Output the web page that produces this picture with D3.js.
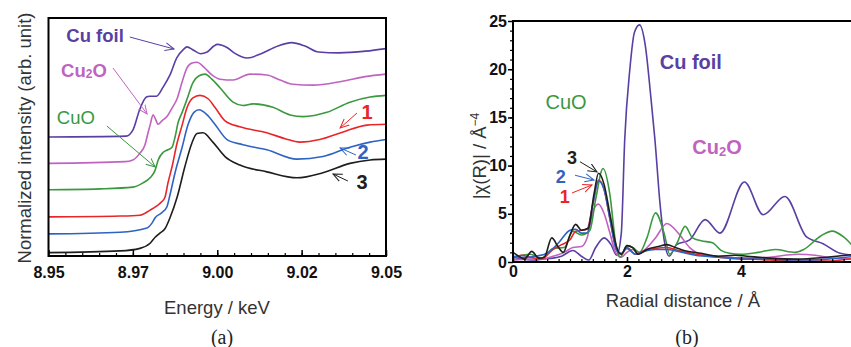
<!DOCTYPE html>
<html>
<head>
<meta charset="utf-8">
<script src="https://cdn.jsdelivr.net/npm/d3@7"></script>
<style>
  body { margin: 0; background: #fff; }
  svg { display: block; font-family: "Liberation Sans", Arial, sans-serif; }
</style>
</head>
<body>
<div id="chart"></div>
<script>
// ---------- (a) XANES, stacked normalized intensity ----------
const xanesTicks = [8.95, 8.975, 9.0, 9.025, 9.05];
const xanesTickLabels = ['8.95', '8.97', '9.00', '9.02', '9.05'];

const xanesCuFoil = [
  [8.950, 1.40], [8.973, 1.41], [8.975, 1.48], [8.977, 1.72], [8.979, 1.87], [8.980, 1.88],
  [8.982, 1.88], [8.984, 1.99], [8.986, 2.13], [8.988, 2.33], [8.990, 2.43], [8.991, 2.46],
  [8.993, 2.42], [8.995, 2.38], [8.997, 2.40], [8.999, 2.47], [9.000, 2.49], [9.003, 2.45],
  [9.005, 2.39], [9.009, 2.33], [9.013, 2.38], [9.018, 2.47], [9.022, 2.51], [9.026, 2.47],
  [9.030, 2.40], [9.036, 2.39], [9.044, 2.41], [9.050, 2.44]
];
const xanesCu2O = [
  [8.950, 1.09], [8.9727, 1.11], [8.975, 1.13], [8.9771, 1.21], [8.9786, 1.31], [8.9795, 1.45],
  [8.9801, 1.54], [8.981, 1.66], [8.9816, 1.62], [8.9825, 1.55], [8.9836, 1.59], [8.9851, 1.64],
  [8.9866, 1.74], [8.9881, 1.85], [8.9896, 2.05], [8.991, 2.21], [8.9925, 2.27], [8.994, 2.28],
  [8.9961, 2.22], [8.9984, 2.13], [9.0008, 2.08], [9.0047, 2.07], [9.0097, 2.14], [9.0147, 2.13],
  [9.0186, 2.07], [9.0224, 2.02], [9.0284, 2.01], [9.0364, 2.05], [9.0438, 2.11], [9.050, 2.14]
];
const xanesCuO = [
  [8.950, 0.78], [8.9653, 0.79], [8.975, 0.81], [8.978, 0.86], [8.9801, 0.92], [8.9816, 1.01],
  [8.9825, 1.13], [8.984, 1.22], [8.9854, 1.25], [8.9866, 1.28], [8.9875, 1.40], [8.9884, 1.57],
  [8.9896, 1.69], [8.991, 1.84], [8.9928, 2.04], [8.9946, 2.12], [8.9964, 2.14], [8.9984, 2.08],
  [9.0008, 1.98], [9.0047, 1.81], [9.0076, 1.77], [9.0106, 1.79], [9.0165, 1.75], [9.0216, 1.66],
  [9.0254, 1.64], [9.0325, 1.69], [9.0393, 1.81], [9.0453, 1.87], [9.050, 1.89]
];
const xanesSample1 = [
  [8.950, 0.46], [8.9712, 0.47], [8.9771, 0.48], [8.9801, 0.54], [8.9821, 0.59], [8.9836, 0.64],
  [8.9845, 0.69], [8.9854, 0.86], [8.9866, 1.05], [8.9881, 1.33], [8.9896, 1.54], [8.991, 1.74],
  [8.9928, 1.86], [8.9949, 1.89], [8.9973, 1.85], [8.9993, 1.75], [9.0023, 1.59], [9.0067, 1.52],
  [9.0147, 1.45], [9.0201, 1.38], [9.0245, 1.34], [9.0304, 1.37], [9.0373, 1.46], [9.0444, 1.54],
  [9.050, 1.55]
];
const xanesSample2 = [
  [8.950, 0.26], [8.9712, 0.28], [8.9792, 0.33], [8.9807, 0.39], [8.9816, 0.45], [8.9836, 0.51],
  [8.9851, 0.58], [8.986, 0.72], [8.9875, 0.98], [8.9896, 1.28], [8.9913, 1.54], [8.9931, 1.69],
  [8.9946, 1.72], [8.997, 1.66], [8.9993, 1.55], [9.0029, 1.37], [9.0076, 1.31], [9.0147, 1.25],
  [9.0236, 1.14], [9.0313, 1.17], [9.0393, 1.28], [9.0453, 1.34], [9.050, 1.37]
];
const xanesSample3 = [
  [8.950, 0.04], [8.9712, 0.06], [8.9771, 0.09], [8.9801, 0.15], [8.9816, 0.22], [8.983, 0.27],
  [8.9845, 0.32], [8.986, 0.45], [8.9881, 0.69], [8.9904, 1.05], [8.9925, 1.33], [8.994, 1.44],
  [8.9958, 1.45], [8.9987, 1.34], [9.0023, 1.17], [9.0067, 1.07], [9.0147, 0.99], [9.0236, 0.92],
  [9.0313, 0.98], [9.0393, 1.09], [9.0453, 1.13], [9.050, 1.14]
];

// ---------- (b) Fourier transform |chi(R)| ----------
const ftTicks = [0, 2, 4, 6];
const ftYTicks = [0, 5, 10, 15, 20, 25];

const ftCuFoil = [
  [0, 0.5], [0.2, 0.3], [0.4, 0.2], [0.5, 0.3], [0.7, 0.4], [0.85, 0.6], [1.05, 1.2], [1.2, 0.6],
  [1.33, 0.2], [1.45, 1.5], [1.6, 2.5], [1.72, 1.8], [1.82, 0.7], [1.9, 3.0], [1.96, 12.7],
  [2.05, 20.0], [2.13, 23.8], [2.22, 24.6], [2.32, 22.5], [2.42, 17.0], [2.49, 12.7], [2.58, 6.0],
  [2.66, 2.0], [2.74, 0.6], [2.87, 1.8], [3.1, 2.3], [3.37, 4.4], [3.63, 3.0], [4.06, 8.3],
  [4.39, 4.9], [4.77, 6.8], [5.15, 2.6], [5.44, 1.9], [5.74, 0.9], [6.0, 0.7]
];
const ftCu2O = [
  [0, 0.2], [0.3, 0.3], [0.5, 0.3], [0.7, 0.6], [0.9, 1.0], [1.05, 1.5], [1.2, 1.6], [1.3, 2.5],
  [1.42, 5.5], [1.5, 6.0], [1.6, 5.0], [1.7, 3.0], [1.8, 1.0], [1.9, 0.5], [2.0, 1.0], [2.1, 1.3],
  [2.2, 0.8], [2.3, 1.2], [2.5, 2.5], [2.7, 4.0], [2.9, 3.0], [3.1, 1.5], [3.3, 0.8], [3.6, 0.6],
  [4.0, 0.4], [4.5, 0.5], [5.0, 0.8], [5.3, 0.7], [5.6, 0.4], [6.0, 0.3]
];
const ftCuO = [
  [0, 0.5], [0.3, 0.8], [0.5, 0.4], [0.7, 1.4], [0.9, 1.5], [1.05, 3.2], [1.2, 2.8], [1.35, 3.3],
  [1.45, 6.5], [1.58, 9.7], [1.7, 7.0], [1.8, 2.0], [1.88, 0.5], [2.0, 1.7], [2.1, 1.5],
  [2.22, 1.0], [2.35, 2.5], [2.5, 5.1], [2.65, 3.0], [2.75, 0.8], [2.88, 2.0], [3.02, 3.7],
  [3.15, 2.5], [3.3, 2.2], [3.5, 2.0], [3.65, 1.2], [3.8, 0.9], [4.0, 0.8], [4.3, 1.0],
  [4.6, 1.3], [4.95, 1.0], [5.1, 1.3], [5.4, 2.7], [5.6, 3.2], [5.8, 2.6], [6.0, 1.4]
];
const ftSample1 = [
  [0, 0.4], [0.15, 0.7], [0.3, 0.5], [0.5, 0.3], [0.7, 1.3], [0.85, 1.8], [1.0, 2.3], [1.1, 3.2],
  [1.3, 3.4], [1.4, 6.0], [1.5, 8.5], [1.6, 7.5], [1.7, 4.5], [1.82, 1.2], [1.9, 0.8], [2.0, 1.5],
  [2.15, 0.8], [2.3, 1.2], [2.5, 1.4], [2.7, 1.5], [2.9, 1.2], [3.2, 0.8], [3.6, 0.5], [4.0, 0.4],
  [4.5, 0.2], [5.0, 0.1], [5.5, 0.1], [6.0, 0.4]
];
const ftSample2 = [
  [0, 0.6], [0.2, 0.5], [0.4, 0.6], [0.6, 0.9], [0.8, 2.0], [1.0, 3.3], [1.1, 3.4], [1.2, 3.0],
  [1.3, 3.0], [1.4, 6.0], [1.5, 8.4], [1.6, 7.5], [1.7, 4.5], [1.82, 1.2], [1.9, 0.9], [2.0, 1.4],
  [2.15, 0.8], [2.3, 1.1], [2.5, 1.3], [2.7, 1.3], [2.9, 1.1], [3.2, 0.7], [3.6, 0.5], [4.0, 0.3],
  [4.5, 0.3], [5.0, 0.2], [5.5, 0.3], [6.0, 0.6]
];
const ftSample3 = [
  [0, 1.0], [0.1, 0.6], [0.2, 0.3], [0.33, 1.1], [0.45, 0.4], [0.55, 0.5], [0.68, 2.5], [0.8, 1.5],
  [0.88, 1.0], [1.0, 2.8], [1.1, 3.9], [1.2, 3.3], [1.32, 3.5], [1.42, 7.0], [1.5, 9.2], [1.6, 8.0],
  [1.7, 5.0], [1.82, 1.5], [1.9, 0.8], [2.0, 1.7], [2.1, 1.5], [2.2, 0.8], [2.35, 1.3], [2.55, 1.6],
  [2.7, 1.8], [2.85, 1.5], [3.0, 1.2], [3.3, 0.9], [3.6, 0.6], [3.9, 0.7], [4.1, 0.6], [4.5, 0.4],
  [5.0, 0.3], [5.5, 0.5], [6.0, 0.8]
];

const colors = {
  foil: '#5a3fa3', cu2o: '#c063c0', cuo: '#3a983e',
  s1: '#e8262a', s2: '#2e63c4', s3: '#1e1e1e'
};

const width = 851, height = 347;
const svg = d3.select('#chart').append('svg')
  .attr('width', width).attr('height', height);

const defs = svg.append('defs');
Object.entries(colors).forEach(([k, c]) => {
  defs.append('marker')
    .attr('id', 'arrow-' + k)
    .attr('viewBox', '0 0 10 10').attr('refX', 9).attr('refY', 5)
    .attr('markerWidth', 10).attr('markerHeight', 10)
    .attr('markerUnits', 'userSpaceOnUse')
    .attr('orient', 'auto')
    .append('path').attr('d', 'M0,1 L9,5 L0,9')
    .attr('fill', 'none').attr('stroke', c).attr('stroke-width', 1);
});

function annotate(g, x, y, items) {
  items.forEach(a => {
    const t = g.append('text')
      .attr('x', x(a.tx)).attr('y', y(a.ty))
      .attr('text-anchor', 'middle').attr('dominant-baseline', 'central')
      .attr('fill', colors[a.key])
      .attr('font-size', a.size).attr('font-weight', a.bold ? 'bold' : 'normal');
    if (a.sub) {
      t.append('tspan').text(a.text[0]);
      t.append('tspan').attr('font-size', a.size * 0.65).attr('dy', 4).text(a.text[1]);
      t.append('tspan').attr('dy', -4).text(a.text[2]);
    } else {
      t.text(a.text);
    }
    if (a.from) {
      g.append('line')
        .attr('x1', x(a.from[0])).attr('y1', y(a.from[1]))
        .attr('x2', x(a.to[0])).attr('y2', y(a.to[1]))
        .attr('stroke', colors[a.key]).attr('stroke-width', 1)
        .attr('marker-end', `url(#arrow-${a.key})`);
    }
  });
}

const tickFont = s => s.selectAll('text').attr('fill', '#111').attr('font-size', 16)
  .attr('font-weight', 'bold').attr('font-family', '"Liberation Sans", Arial, sans-serif');

// ================= panel (a) =================
{
  const xa = d3.scaleLinear().domain([8.95, 9.05]).range([48.5, 386]);
  const ya = d3.scaleLinear().domain([0, 2.8]).range([256, 18]);
  const g = svg.append('g');

  const line = d3.line().x(d => xa(d[0])).y(d => ya(d[1])).curve(d3.curveMonotoneX);
  const series = [
    [xanesCuFoil, 'foil'], [xanesCu2O, 'cu2o'], [xanesCuO, 'cuo'],
    [xanesSample1, 's1'], [xanesSample2, 's2'], [xanesSample3, 's3']
  ];
  series.forEach(([d, k]) => {
    g.append('path').datum(d).attr('d', line)
      .attr('fill', 'none').attr('stroke', colors[k]).attr('stroke-width', 1.6);
  });

  // minor ticks every 0.005
  g.append('g').attr('transform', 'translate(0,256)')
    .call(d3.axisBottom(xa).tickValues(d3.range(8.955, 9.05, 0.005)).tickSize(-3).tickFormat(''))
    .call(s => s.select('.domain').remove())
    .call(s => s.selectAll('line').attr('stroke', '#000').attr('stroke-width', 1.2));

  g.append('g').attr('transform', 'translate(0,256)')
    .call(d3.axisBottom(xa).tickValues(xanesTicks).tickSize(-6).tickPadding(11)
      .tickFormat((d, i) => xanesTickLabels[i]))
    .call(s => s.select('.domain').remove())
    .call(s => s.selectAll('line').attr('stroke', '#000').attr('stroke-width', 1.5))
    .call(tickFont);

  g.append('rect').attr('x', 48.5).attr('y', 18).attr('width', 386 - 48.5).attr('height', 238)
    .attr('fill', 'none').attr('stroke', '#000').attr('stroke-width', 2);

  g.append('text').attr('x', 217).attr('y', 307)
    .attr('text-anchor', 'middle').attr('dominant-baseline', 'central')
    .attr('font-size', 18.5).attr('fill', '#333').text('Energy / keV');
  g.append('text')
    .attr('transform', 'translate(31,138) rotate(-90)')
    .attr('text-anchor', 'middle')
    .attr('font-size', 18.5).attr('fill', '#333').text('Normalized intensity (arb. unit)');
  g.append('text').attr('x', 222).attr('y', 337)
    .attr('text-anchor', 'middle').attr('dominant-baseline', 'central')
    .attr('font-family', '"Liberation Serif", "Times New Roman", serif')
    .attr('font-size', 20).attr('fill', '#222').text('(a)');

  annotate(g, xa, ya, [
    { key: 'foil', text: 'Cu foil', bold: true, size: 18.5, tx: 8.9638, ty: 2.60,
      from: [8.9741, 2.576], to: [8.9872, 2.435] },
    { key: 'cu2o', text: ['Cu', '2', 'O'], sub: true, bold: true, size: 18.5, tx: 8.9605, ty: 2.188,
      from: [8.9691, 2.212], to: [8.9792, 1.671] },
    { key: 'cuo', text: 'CuO', size: 18.5, tx: 8.9581, ty: 1.635,
      from: [8.9673, 1.529], to: [8.9816, 1.047] },
    { key: 's1', text: '1', bold: true, size: 20, tx: 9.0444, ty: 1.694,
      from: [9.0414, 1.682], to: [9.0364, 1.506] },
    { key: 's2', text: '2', bold: true, size: 20, tx: 9.0432, ty: 1.224,
      from: [9.0411, 1.188], to: [9.0364, 1.271] },
    { key: 's3', text: '3', bold: true, size: 20, tx: 9.0429, ty: 0.871,
      from: [9.0387, 0.882], to: [9.0343, 0.965] }
  ]);
}

// ================= panel (b) =================
{
  const xb = d3.scaleLinear().domain([0, 6]).range([513, 855]);
  const yb = d3.scaleLinear().domain([0, 25]).range([262, 21]);
  const g = svg.append('g');

  defs.append('clipPath').attr('id', 'clip-b')
    .append('rect').attr('x', 513).attr('y', 0).attr('width', 400).attr('height', 262);

  const line = d3.line().x(d => xb(d[0])).y(d => yb(d[1])).curve(d3.curveMonotoneX);
  const series = [
    [ftCuFoil, 'foil'], [ftCu2O, 'cu2o'], [ftCuO, 'cuo'],
    [ftSample1, 's1'], [ftSample2, 's2'], [ftSample3, 's3']
  ];
  const plot = g.append('g').attr('clip-path', 'url(#clip-b)');
  series.forEach(([d, k]) => {
    plot.append('path').datum(d).attr('d', line)
      .attr('fill', 'none').attr('stroke', colors[k]).attr('stroke-width', 1.6);
  });

  // y axis
  g.append('g').attr('transform', 'translate(513,0)')
    .call(d3.axisLeft(yb).tickValues(d3.range(1, 25, 1)).tickSize(3).tickFormat(''))
    .call(s => s.select('.domain').remove())
    .call(s => s.selectAll('line').attr('stroke', '#000').attr('stroke-width', 1.2));
  g.append('g').attr('transform', 'translate(513,0)')
    .call(d3.axisLeft(yb).tickValues(ftYTicks).tickSize(5).tickPadding(1).tickFormat(d3.format('d')))
    .call(s => s.select('.domain').remove())
    .call(s => s.selectAll('line').attr('stroke', '#000').attr('stroke-width', 1.5))
    .call(tickFont);

  // x axis
  g.append('g').attr('transform', 'translate(0,262)')
    .call(d3.axisBottom(xb).tickValues(d3.range(0.2, 6, 0.2)).tickSize(-3).tickFormat(''))
    .call(s => s.select('.domain').remove())
    .call(s => s.selectAll('line').attr('stroke', '#000').attr('stroke-width', 1.2));
  g.append('g').attr('transform', 'translate(0,262)')
    .call(d3.axisBottom(xb).tickValues(ftTicks).tickSize(-5).tickPadding(4).tickFormat(d3.format('d')))
    .call(s => s.select('.domain').remove())
    .call(s => s.selectAll('line').attr('stroke', '#000').attr('stroke-width', 1.5))
    .call(tickFont);

  // frame lines
  g.append('path').attr('d', 'M855,21 H513 V262 H855')
    .attr('fill', 'none').attr('stroke', '#000').attr('stroke-width', 2);

  g.append('text').attr('x', 683).attr('y', 300)
    .attr('text-anchor', 'middle').attr('dominant-baseline', 'central')
    .attr('font-size', 18.5).attr('fill', '#333').text('Radial distance / Å');
  const yl = g.append('text')
    .attr('transform', 'translate(486,156) rotate(-90)')
    .attr('text-anchor', 'middle')
    .attr('font-size', 18.5).attr('fill', '#333');
  yl.append('tspan').text('|χ(R)| / Å');
  yl.append('tspan').attr('dy', -7).attr('font-size', 12).text('−4');
  g.append('text').attr('x', 687).attr('y', 337)
    .attr('text-anchor', 'middle').attr('dominant-baseline', 'central')
    .attr('font-family', '"Liberation Serif", "Times New Roman", serif')
    .attr('font-size', 20).attr('fill', '#222').text('(b)');

  annotate(g, xb, yb, [
    { key: 'foil', text: 'Cu foil', bold: true, size: 20, tx: 3.12, ty: 20.7 },
    { key: 'cuo', text: 'CuO', size: 20, tx: 0.93, ty: 16.6 },
    { key: 'cu2o', text: ['Cu', '2', 'O'], sub: true, bold: true, size: 20, tx: 3.58, ty: 11.9 },
    { key: 's3', text: '3', bold: true, size: 18, tx: 1.035, ty: 10.8,
      from: [1.175, 10.4], to: [1.474, 9.34] },
    { key: 's2', text: '2', bold: true, size: 18, tx: 0.84, ty: 8.8,
      from: [1.088, 9.0], to: [1.42, 8.5] },
    { key: 's1', text: '1', bold: true, size: 18, tx: 0.91, ty: 6.75,
      from: [1.035, 7.16], to: [1.386, 7.99] }
  ]);
}
</script>
</body>
</html>
